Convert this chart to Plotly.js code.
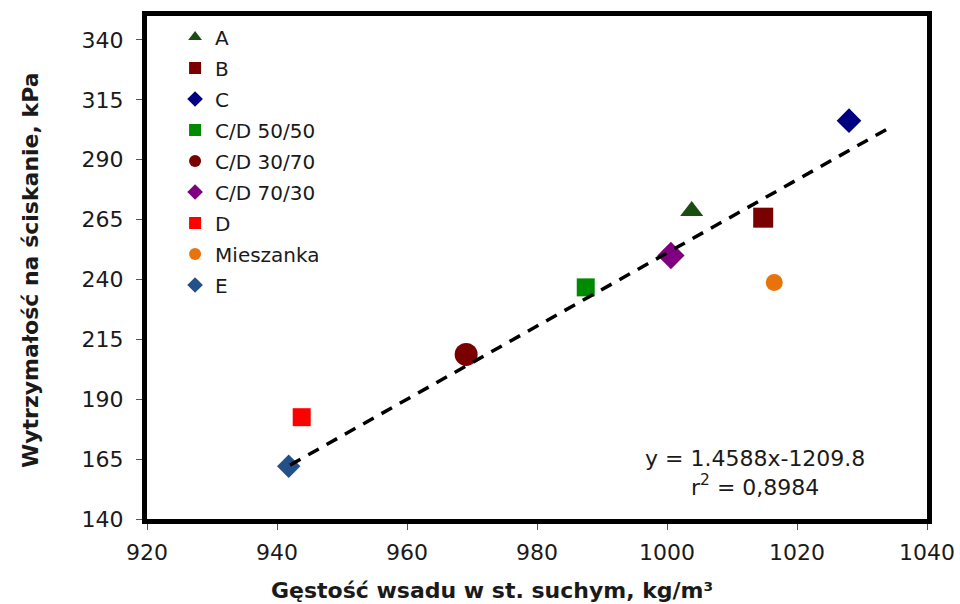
<!DOCTYPE html>
<html>
<head>
<meta charset="utf-8">
<script src="https://cdn.plot.ly/plotly-3.0.1.min.js"></script>
<style>html,body{margin:0;padding:0;background:#fff;}#chart{width:960px;height:604px;}</style>
</head>
<body>
<div id="chart"></div>
<script>
const seriesNames = ["A", "B", "C", "C/D 50/50", "C/D 30/70", "C/D 70/30", "D", "Mieszanka", "E"];
const densityX = [1003.8, 1014.8, 1028.0, 987.5, 969.1, 1000.6, 943.8, 1016.5, 941.8];
const strengthY = [268.6, 265.8, 306.3, 236.7, 208.7, 250.0, 182.5, 238.7, 162.0];
const symbols = ["triangle-up", "square", "diamond", "square", "circle", "diamond", "square", "circle", "diamond"];
const colors = ["#1a4d12", "#7a0000", "#000080", "#008a00", "#7a0000", "#800080", "#ff0000", "#e8730c", "#24508a"];
const sizes = [20, 20, 19, 18, 23, 21, 18, 17, 18];
const trendX = [942, 1034];
const trendY = [162.5, 303.0];
const xTitle = "Gęstość wsadu w st. suchym, kg/m³";
const yTitle = "Wytrzymałość na ściskanie, kPa";
const equationText = "y = 1.4588x-1209.8<br>r<sup>2</sup> = 0,8984";

const traces = seriesNames.map((name, i) => ({
  type: "scatter", mode: "markers", name: name, legendgroup: "g" + i,
  x: [densityX[i]], y: [strengthY[i]],
  marker: {symbol: symbols[i], color: colors[i], size: sizes[i], line: {width: 0}}
}));
traces.push({
  type: "scatter", mode: "lines", x: trendX, y: trendY, showlegend: false,
  line: {color: "#000", width: 3.5, dash: "12px,9px"}
});

const fontFam = "DejaVu Sans, sans-serif";
const txt = "#1a1a1a";
const layout = {
  width: 960, height: 604,
  margin: {l: 147, r: 33, t: 16, b: 85},
  paper_bgcolor: "#fff", plot_bgcolor: "#fff",
  font: {family: fontFam, size: 21, color: txt},
  showlegend: true,
  legend: {
    x: 0.036, y: 0.997, xanchor: "left", yanchor: "top",
    bgcolor: "rgba(0,0,0,0)", itemsizing: "constant",
    font: {family: fontFam, size: 20, color: txt},
    tracegroupgap: 2, traceorder: "grouped"
  },
  xaxis: {
    range: [920, 1040], dtick: 20, tick0: 920,
    showgrid: false, zeroline: false,
    showline: true, linewidth: 5, linecolor: "#000", mirror: true,
    ticks: "outside", ticklen: 6, tickwidth: 1, tickcolor: "#555",
    ticklabelstandoff: 4,
    tickfont: {family: fontFam, size: 22, color: txt}
  },
  yaxis: {
    range: [140, 350], dtick: 25, tick0: 140,
    showgrid: false, zeroline: false,
    showline: true, linewidth: 5, linecolor: "#000", mirror: true,
    ticks: "outside", ticklen: 6, tickwidth: 1, tickcolor: "#555",
    ticklabelstandoff: 8,
    tickfont: {family: fontFam, size: 22, color: txt}
  },
  annotations: [
    {xref: "paper", yref: "paper", x: (492 - 147) / 780, y: (519 - 590) / 503, xanchor: "center", yanchor: "middle",
     showarrow: false, text: "<b>" + xTitle + "</b>", font: {family: fontFam, size: 22, color: txt}},
    {xref: "paper", yref: "paper", x: (30 - 147) / 780, y: (519 - 270) / 503, xanchor: "center", yanchor: "middle",
     showarrow: false, textangle: -90, text: "<b>" + yTitle + "</b>", font: {family: fontFam, size: 22, color: txt}},
    {xref: "paper", yref: "paper", x: (755 - 147) / 780, y: (519 - 473) / 503, xanchor: "center", yanchor: "middle",
     showarrow: false, text: equationText, font: {family: fontFam, size: 22, color: txt}, align: "center"}
  ]
};
Plotly.newPlot("chart", traces, layout, {displayModeBar: false, staticPlot: true});
</script>
</body>
</html>
